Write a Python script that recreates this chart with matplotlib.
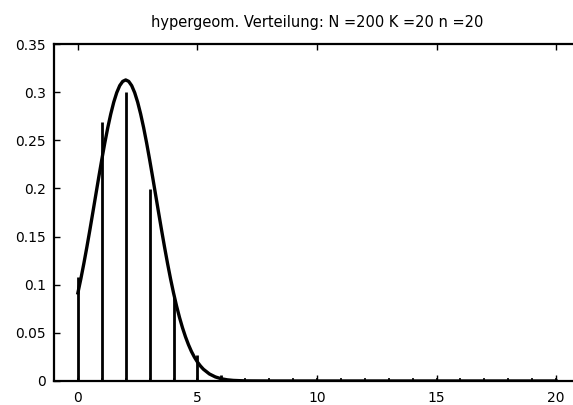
import matplotlib.pyplot as plt

plt.rcParams['font.family'] = ['DejaVu Sans']

# Stabdiagramm: Wahrscheinlichkeiten P(X = k)
k_werte = list(range(21))
p_werte = [0.108, 0.269, 0.300, 0.199, 0.087, 0.027, 0.0061, 0.0010, 0.0001,
           0, 0, 0, 0, 0, 0, 0, 0, 0, 0, 0, 0]

# Glatte Kurve (Normalnäherung)
kurve_x = [0, 0.125, 0.25, 0.375, 0.5, 0.625, 0.75, 0.875, 1, 1.125, 1.25,
           1.375, 1.5, 1.625, 1.75, 1.875, 2, 2.125, 2.25, 2.375, 2.5, 2.625,
           2.75, 2.875, 3, 3.125, 3.25, 3.375, 3.5, 3.625, 3.75, 3.875, 4,
           4.125, 4.25, 4.375, 4.5, 4.625, 4.75, 4.875, 5, 5.125, 5.25, 5.5,
           5.75, 6, 6.25, 6.5, 7, 8, 20]
kurve_y = [0.0915, 0.1062, 0.1221, 0.1390, 0.1567, 0.1750, 0.1935, 0.2120,
           0.2300, 0.2472, 0.2631, 0.2773, 0.2896, 0.2995, 0.3068, 0.3112,
           0.3127, 0.3112, 0.3068, 0.2995, 0.2896, 0.2773, 0.2631, 0.2472,
           0.2300, 0.2120, 0.1935, 0.1750, 0.1567, 0.1390, 0.1221, 0.1062,
           0.0915, 0.0781, 0.0660, 0.0553, 0.0459, 0.0377, 0.0306, 0.0247,
           0.0197, 0.0156, 0.0122, 0.0073, 0.0042, 0.0023, 0.0012, 0.0006,
           0.0001, 0, 0]

titel = 'hypergeom. Verteilung: N =200 K =20 n =20'

fig = plt.figure(figsize=(5.73, 4.05), dpi=100)
ax = fig.add_axes([0.0942, 0.0593, 0.918, 0.832])

ax.vlines(k_werte, 0, p_werte, colors='black', linewidth=2)
ax.plot(k_werte, [0.0012] * len(k_werte), linestyle='none', marker='|',
        markersize=3, color='black', markeredgewidth=1.2)
ax.plot(kurve_x, kurve_y, color='black', linewidth=2.4,
        solid_joinstyle='round')

ax.set_xlim(-1, 21)
ax.set_ylim(0, 0.35)
ax.set_xticks([0, 5, 10, 15, 20])
ax.set_yticks([0, 0.05, 0.1, 0.15, 0.2, 0.25, 0.3, 0.35])
ax.set_yticklabels(['0', '0.05', '0.1', '0.15', '0.2', '0.25', '0.3', '0.35'])
ax.tick_params(direction='in', length=4, width=1, labelsize=10,
               top=True, right=False)
ax.tick_params(axis='y', pad=6)
ax.tick_params(axis='x', pad=7)
for s in ['left', 'bottom', 'top']:
    ax.spines[s].set_linewidth(1.6)
ax.spines['right'].set_visible(False)

ax.set_title(titel, fontsize=10.5, pad=12)

fig.savefig('out.png', dpi=100)
